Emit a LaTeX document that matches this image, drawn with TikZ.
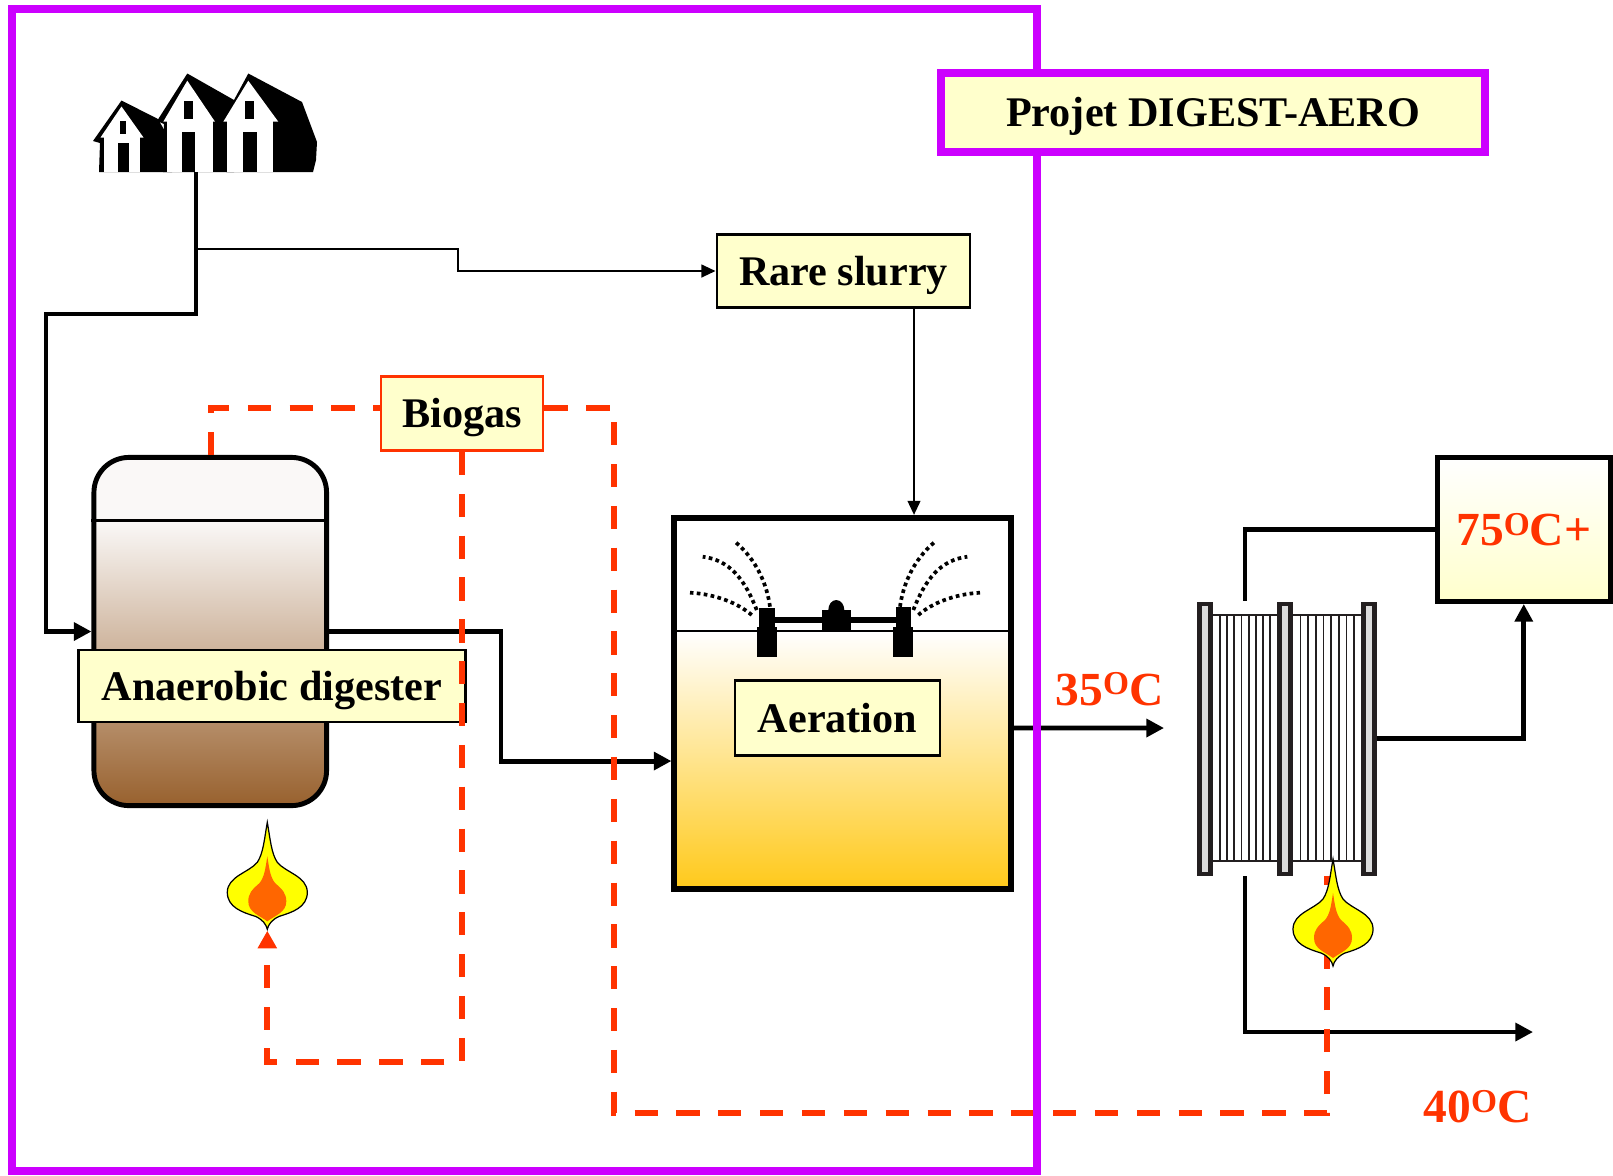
\documentclass[tikz,border=0pt]{standalone}
\usepackage{fontspec}
\setmainfont{Liberation Serif}
\usepackage{tikz}
\usetikzlibrary{arrows.meta,calc}

\definecolor{frameviolet}{HTML}{CC00FF}
\definecolor{gasred}{HTML}{FF3300}
\definecolor{labelfill}{HTML}{FFFFCC}
\definecolor{flameyellow}{HTML}{FFFF00}
\definecolor{flameorange}{HTML}{FF6600}
\definecolor{platedark}{HTML}{231F20}
\definecolor{plategray}{HTML}{DCDCDC}
\definecolor{sludgetop}{HTML}{FAF8F7}
\definecolor{sludgemid}{HTML}{D0BDB2}
\definecolor{sludge}{HTML}{98612E}
\definecolor{aeromid}{HTML}{FFE6B8}
\definecolor{aerobot}{HTML}{FFC91A}

% 温度标注：上标 O
\newcommand{\tempC}[1]{#1\raisebox{3pt}{\fontsize{9.5}{10}\selectfont O}C}

% 火焰
\tikzset{
  flame/.pic={
    \draw[black, line width=0.35pt, fill=flameyellow] (0,-107) .. controls (3,-90) and (4,-76) .. (10,-67)
      .. controls (18,-57) and (40,-53) .. (40,-37) .. controls (40,-22) and (25,-17) .. (12,-13)
      .. controls (5,-10) and (1,-5) .. (0,0) .. controls (-1,-5) and (-5,-10) .. (-12,-13)
      .. controls (-25,-17) and (-40,-22) .. (-40,-37) .. controls (-40,-53) and (-18,-57) .. (-10,-67)
      .. controls (-4,-76) and (-3,-90) .. (0,-107) -- cycle;
    \fill[flameorange] (0,-73) .. controls (2,-60) and (3,-52) .. (8,-46)
      .. controls (15,-40) and (19,-36) .. (19,-28) .. controls (19,-17) and (8,-14) .. (0,-8)
      .. controls (-8,-14) and (-19,-17) .. (-19,-28) .. controls (-19,-36) and (-15,-40) .. (-8,-46)
      .. controls (-3,-52) and (-2,-60) .. (0,-73) -- cycle;
  }
}

\begin{document}
\begin{tikzpicture}[x=0.01cm, y=-0.01cm,
    lbox/.style={draw, line width=0.8pt, fill=labelfill, inner sep=0pt,
      text height=10pt, text depth=2pt, font=\fontsize{12}{14}\selectfont\bfseries},
    pipe/.style={line width=1.4pt},
    thinpipe/.style={line width=0.6pt},
    flow/.style={-{Triangle[length=5pt,width=5pt]}},
    thinflow/.style={-{Triangle[length=4pt,width=3.6pt]}},
    gas/.style={gasred, line width=1.7pt, dash pattern=on 6.6pt off 5.3pt},
    spray/.style={line width=1.05pt, dash pattern=on 1.05pt off 0.95pt},
    hot/.style={text=gasred, inner sep=0pt, font=\fontsize{13.5}{15}\selectfont\bfseries}]

    \useasboundingbox (0,0) rectangle (1613,1175);

    % 住户
    \fill (93,141) -- (121.5,100.5) -- (158,119) -- (170,140) -- (174,156) -- (172,172) -- (99,172) -- (100,143) -- cycle;
    \fill[white] (100.5,137.5) -- (121.5,106.5) -- (143.5,137.5) -- cycle;
    \fill[white] (103.5,137) rectangle (140,172);
    \fill (119.5,121) rectangle (126,133.5);
    \fill (117.5,143) rectangle (128.5,172);

    \fill (157,121) -- (187.3,73.5) -- (234,100) -- (234,172) -- (163,172) -- (164,124) -- cycle;
    \fill[white] (163.3,121.7) -- (187.3,80.7) -- (215,121.7) -- cycle;
    \fill[white] (167.3,121) rectangle (213.3,172);
    \fill (184,101) rectangle (192.7,119.3);
    \fill (181.7,131.7) rectangle (195,172);

    \fill (221,124) -- (248.3,73.5) -- (302,102) -- (317,142) -- (316,160) -- (313,172) -- (226,172) -- (226.5,127) -- cycle;
    \fill[white] (223.3,121.7) -- (248.3,80.7) -- (278.3,121.7) -- cycle;
    \fill[white] (226.7,121) rectangle (272.7,172);
    \fill (245,101) rectangle (254,119.3);
    \fill (243.3,131.7) rectangle (256.7,172);
    \coordinate (houses) at (196,172);

    % 厌氧消化罐
    \begin{scope}
        \clip[rounded corners=0.35cm] (94,457.5) rectangle (326.5,805.5);
        \fill[sludgetop] (94,457.5) rectangle (326.5,520.7);
        \shade[top color=sludgetop, middle color=sludgemid, bottom color=sludge] (94,520.7) rectangle (326.5,805.5);
    \end{scope}
    \node[draw, line width=1.4pt, rounded corners=0.35cm, minimum width=2.325cm, minimum height=3.48cm] (digester) at (210.25,631.5) {};
    \coordinate (gaslevel) at (0,520.7);
    \draw[line width=0.9pt] (digester.west |- gaslevel) -- (digester.east |- gaslevel);

    % 曝气池
    \shade[top color=white, middle color=aeromid, bottom color=aerobot] (674.5,631) rectangle (1010.5,889);
    \node[draw, line width=1.7pt, minimum width=3.36cm, minimum height=3.71cm] (tank) at (842.5,703.5) {};
    \coordinate (waterline) at (0,631);
    \draw[line width=0.6pt] (tank.west |- waterline) -- (tank.east |- waterline);

    % 曝气器
    \fill (759,607.7) rectangle (775,628.3);
    \fill (756.7,626.7) rectangle (776.7,656.7);
    \fill (895.7,606.7) rectangle (910.7,626.7);
    \fill (893.3,626.7) rectangle (913.3,656.7);
    \fill (775,617.3) rectangle (895.7,623.3);
    \fill (821.7,610) rectangle (851,632.3);
    \fill (836.3,610) ellipse [x radius=8, y radius=10];
    \foreach \side in {1,-1} {
        \begin{scope}[shift={(835-835*\side,0)}, xscale=\side]
            \draw[spray] (751.7,615) .. controls (738,603) and (715,594) .. (690,592.7);
            \draw[spray] (756.7,610) .. controls (745,580) and (730,560) .. (702.7,556.7);
            \draw[spray] (770,606.7) .. controls (767,585) and (757,560) .. (735,541.7);
        \end{scope}
    }

    % 换热器
    \fill[white] (1212.7,615) rectangle (1361.7,861);
    \foreach \k in {1,...,8} {
        \draw[platedark, line width=0.5pt] (1212.7+7.2*\k,615) -- (1212.7+7.2*\k,861);
        \draw[platedark, line width=0.5pt] (1292.7+7.67*\k,615) -- (1292.7+7.67*\k,861);
    }
    \draw[platedark, line width=0.6pt] (1212.7,615) -- (1361.7,615) (1212.7,861) -- (1361.7,861);
    \foreach \x in {1205,1285,1369}
        \draw[platedark, fill=plategray, line width=1.2pt] (\x-5.5,603.9) rectangle (\x+5.5,873.8);
    \coordinate (hxtop) at (1245,600.7);
    \coordinate (hxbot) at (1245,876);
    \coordinate (hxright) at (1376.7,738.5);
    \coordinate (hxgas) at (1327,876);
    \coordinate (hxin) at (1164,728);

    % 标签
    \node[lbox, minimum width=3.87cm, minimum height=0.72cm] (diglabel) at (272,686) {Anaerobic digester};
    \node[lbox, minimum width=2.53cm, minimum height=0.73cm] (rare) at (843.5,271) {Rare slurry};
    \node[lbox, draw=gasred, minimum width=1.62cm, minimum height=0.74cm] (biogas) at (462,413.5) {Biogas};
    \node[lbox, minimum width=2.05cm, minimum height=0.757cm] (aeration) at (837.5,718) {Aeration};
    \node[hot, draw=black, line width=1.4pt, top color=white, bottom color=labelfill,
        minimum width=1.725cm, minimum height=1.44cm] (hot75) at (1523.75,529.5) {\tempC{75}+};

    % 管道
    \coordinate (split) at (196,249);
    \coordinate (slurrydrop) at (914,0);
    \coordinate (out40) at (1533,1032);
    \draw[pipe, flow] (houses) |- (46,314) |- (digester.west);
    \draw[thinpipe, thinflow] (split) -- (458,249) |- (rare.west);
    \draw[thinpipe, thinflow] (rare.south -| slurrydrop) -- (tank.north -| slurrydrop);
    \draw[pipe, flow] (digester.east) -- (501,631.5) |- ([yshift=-0.575cm]tank.west);
    \draw[pipe, flow] ([yshift=-0.245cm]tank.east) -- (hxin);
    \draw[pipe] (hxtop) |- (hot75.west);
    \draw[pipe, flow] (hxright) -| (hot75.south);
    \draw[pipe, flow] (hxbot) |- (out40);

    % 沼气管线
    \coordinate (gasrow) at (0,408);
    \coordinate (gasout) at (211,0);
    \coordinate (gasdown) at (0,1062);
    \coordinate (burner) at (267.3,930.7);
    \draw[gas] (digester.north -| gasout) |- (biogas.west |- gasrow);
    \draw[gas] (biogas.east |- gasrow) -| (614,1113) -| (hxgas);
    \draw[gas, -{Triangle[length=5pt,width=5.2pt]}] (biogas.south) -- (biogas.south |- gasdown) -| (burner);

    % 火焰
    \pic at (267.3,929.3) {flame};
    \pic at (1333,966) {flame};

    % 温度
    \node[hot, anchor=base] (t35) at (1109.5,705) {\tempC{35}};
    \node[hot, anchor=base] (t40) at (1477.5,1122.7) {\tempC{40}};

    % 项目边框
    \draw[frameviolet, line width=2.1pt] (12,9) rectangle (1037,1171);
    \node[lbox, draw=frameviolet, line width=2.3pt, minimum width=5.44cm, minimum height=0.79cm] (title) at (1213,112.5) {Projet DIGEST-AERO};
\end{tikzpicture}
\end{document}
